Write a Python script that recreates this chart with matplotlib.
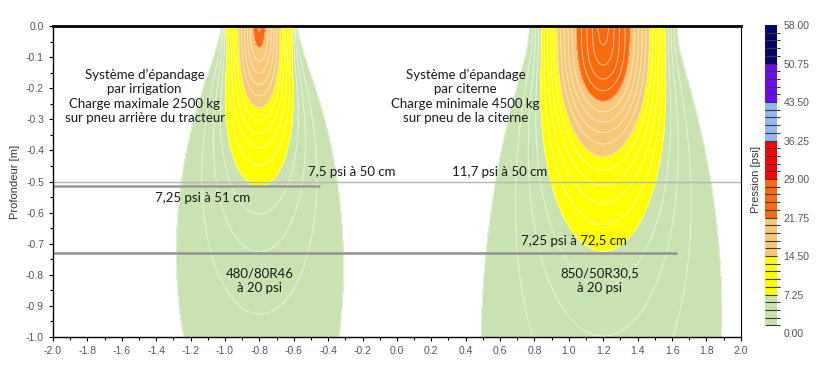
import numpy as np
import matplotlib
matplotlib.use('Agg')
import matplotlib.pyplot as plt
from matplotlib.colors import ListedColormap, BoundaryNorm
from matplotlib.ticker import MultipleLocator

# pneus, valeurs
tire_x = [-0.8, 1.2]          # centre du pneu [m]
tire_load = [2500, 4500]      # charge [kg]
# profil de pression en surface : demi-largeur [m] -> pression [psi]
surf_off = [[0.0, 0.035, 0.12, 0.20, 0.22, 0.24],
            [0.0, 0.03, 0.16, 0.27, 0.36, 0.43, 0.45]]
surf_psi = [[23.5, 21.75, 14.5, 7.25, 1.45, 0.0],
            [28.5, 27.5, 21.75, 14.5, 7.25, 1.45, 0.0]]
nu = 5.0   # facteur de concentration

# echelle de couleur (bandes de 7,25 psi, 5 sous-niveaux chacune)
levels = np.arange(0, 58.01, 1.45)
band_colors = ['#c9e2b1', '#ffff00', '#f6c879', '#fb6a0c',
               '#ff0000', '#93b6ee', '#6a0cf5', '#05056b']
cbar_ticks = np.arange(0, 58.01, 7.25)

# lignes horizontales et annotations
hlines_z = [-0.5, -0.515, -0.73]
hlines_x1 = [2.0, -0.446, 1.63]
hlines_c = ['#b5b5b5', '#9a9a9a', '#9a9a9a']
hlines_w = [1.0, 1.8, 2.0]

# --- champ de pression (Boussinesq / Frohlich) ---
xs = np.linspace(-2, 2, 401)
zs = np.linspace(0, 1.0, 101)
X, Z = np.meshgrid(xs, zs)
P = np.zeros_like(X)
Zs = Z[1:]
for xc, load, off, psi in zip(tire_x, tire_load, surf_off, surf_psi):
    hw = off[-1]
    nx = 121
    dx = 2 * hw / nx
    xp = -hw + dx * (np.arange(nx) + 0.5)
    qx = np.interp(np.abs(xp), off, psi) * 6894.76
    length = load * 9.81 / (qx.sum() * dx)
    ny = 81
    dy = length / ny
    yp = -length / 2 + dy * (np.arange(ny) + 0.5)
    P[0] += np.interp(np.abs(xs - xc), off, psi, right=0.0) * 6894.76
    for xi, qi in zip(xp, qx):
        r2 = (X[1:] - xc - xi) ** 2 + Zs ** 2
        s = np.zeros_like(r2)
        for yi in yp:
            s += (r2 + yi ** 2) ** (-(nu + 2) / 2)
        P[1:] += qi * dx * dy * nu / (2 * np.pi) * Zs ** nu * s
P = P / 6894.76

cols = ['#ffffff'] + [band_colors[i // 5] for i in range(len(levels) - 1)][1:]
cmap = ListedColormap(cols)
norm = BoundaryNorm(levels, cmap.N)

fig = plt.figure(figsize=(8.25, 3.73), dpi=100)
ax = fig.add_axes([0.0642, 0.0965, 0.8338, 0.8335])
cf = ax.contourf(X, -Z, P, levels=levels, cmap=cmap, norm=norm)
ax.contour(X, -Z, P, levels=levels[1:], colors='white', linewidths=0.7, alpha=0.55)

for z, x1, c, w in zip(hlines_z, hlines_x1, hlines_c, hlines_w):
    ax.plot([-2.0, x1], [z, z], color=c, lw=w, solid_capstyle='butt')

tf = dict(family=['Lato', 'DejaVu Sans'], fontsize=9.5, color='#1a1a1a',
          ha='center', va='center', linespacing=1.25)
ax.text(-1.467, -0.225, "Système d’épandage\npar irrigation\nCharge maximale 2500 kg\nsur pneu arrière du tracteur", **tf)
ax.text(0.40, -0.225, "Système d’épandage\npar citerne\nCharge minimale 4500 kg\nsur pneu de la citerne", **tf)
ax.text(-0.26, -0.47, "7,5 psi à 50 cm", **tf)
ax.text(0.60, -0.47, "11,7 psi à 50 cm", **tf)
ax.text(-1.13, -0.553, "7,25 psi à 51 cm", **tf)
ax.text(1.03, -0.69, "7,25 psi à 72,5 cm", **tf)
ax.text(-0.80, -0.818, "480/80R46\nà 20 psi", **tf)
ax.text(1.18, -0.818, "850/50R30,5\nà 20 psi", **tf)

ax.set_xlim(-2, 2)
ax.set_ylim(-1, 0)
ax.xaxis.set_major_locator(MultipleLocator(0.2))
ax.xaxis.set_minor_locator(MultipleLocator(0.1))
ax.yaxis.set_major_locator(MultipleLocator(0.1))
ax.yaxis.set_minor_locator(MultipleLocator(0.05))
ax.xaxis.set_major_formatter(matplotlib.ticker.FormatStrFormatter('%.1f'))
ax.yaxis.set_major_formatter(matplotlib.ticker.FormatStrFormatter('%.1f'))
ax.tick_params(which='both', labelsize=7.5, labelcolor='#555555', width=0.8, direction='out')
ax.tick_params(which='major', length=3)
ax.tick_params(which='minor', length=2)
for lab in ax.get_xticklabels() + ax.get_yticklabels():
    lab.set_family('Liberation Sans')
ax.set_ylabel('Profondeur [m]', fontsize=8, color='#333333', family='Liberation Sans', labelpad=4)
ax.spines['top'].set_linewidth(2.0)
ax.spines['left'].set_linewidth(1.0)
ax.spines['bottom'].set_linewidth(1.0)
ax.spines['right'].set_linewidth(0.8)

cax = fig.add_axes([0.927, 0.107, 0.0145, 0.826])
cb = fig.colorbar(cf, cax=cax, ticks=cbar_ticks, format='%.2f', drawedges=True)
cb.outline.set_visible(False)
cb.dividers.set_color('#3a3a2a')
cb.dividers.set_linewidth(0.8)
cax.tick_params(length=0, labelsize=7.5, labelcolor='#555555', pad=5)
for lab in cax.get_yticklabels():
    lab.set_family('Liberation Sans')
cax.yaxis.set_label_position('left')
cb.set_label('Pression [psi]', fontsize=8, color='#333333', family='Liberation Sans', labelpad=3)

fig.savefig('out.png', dpi=100)
